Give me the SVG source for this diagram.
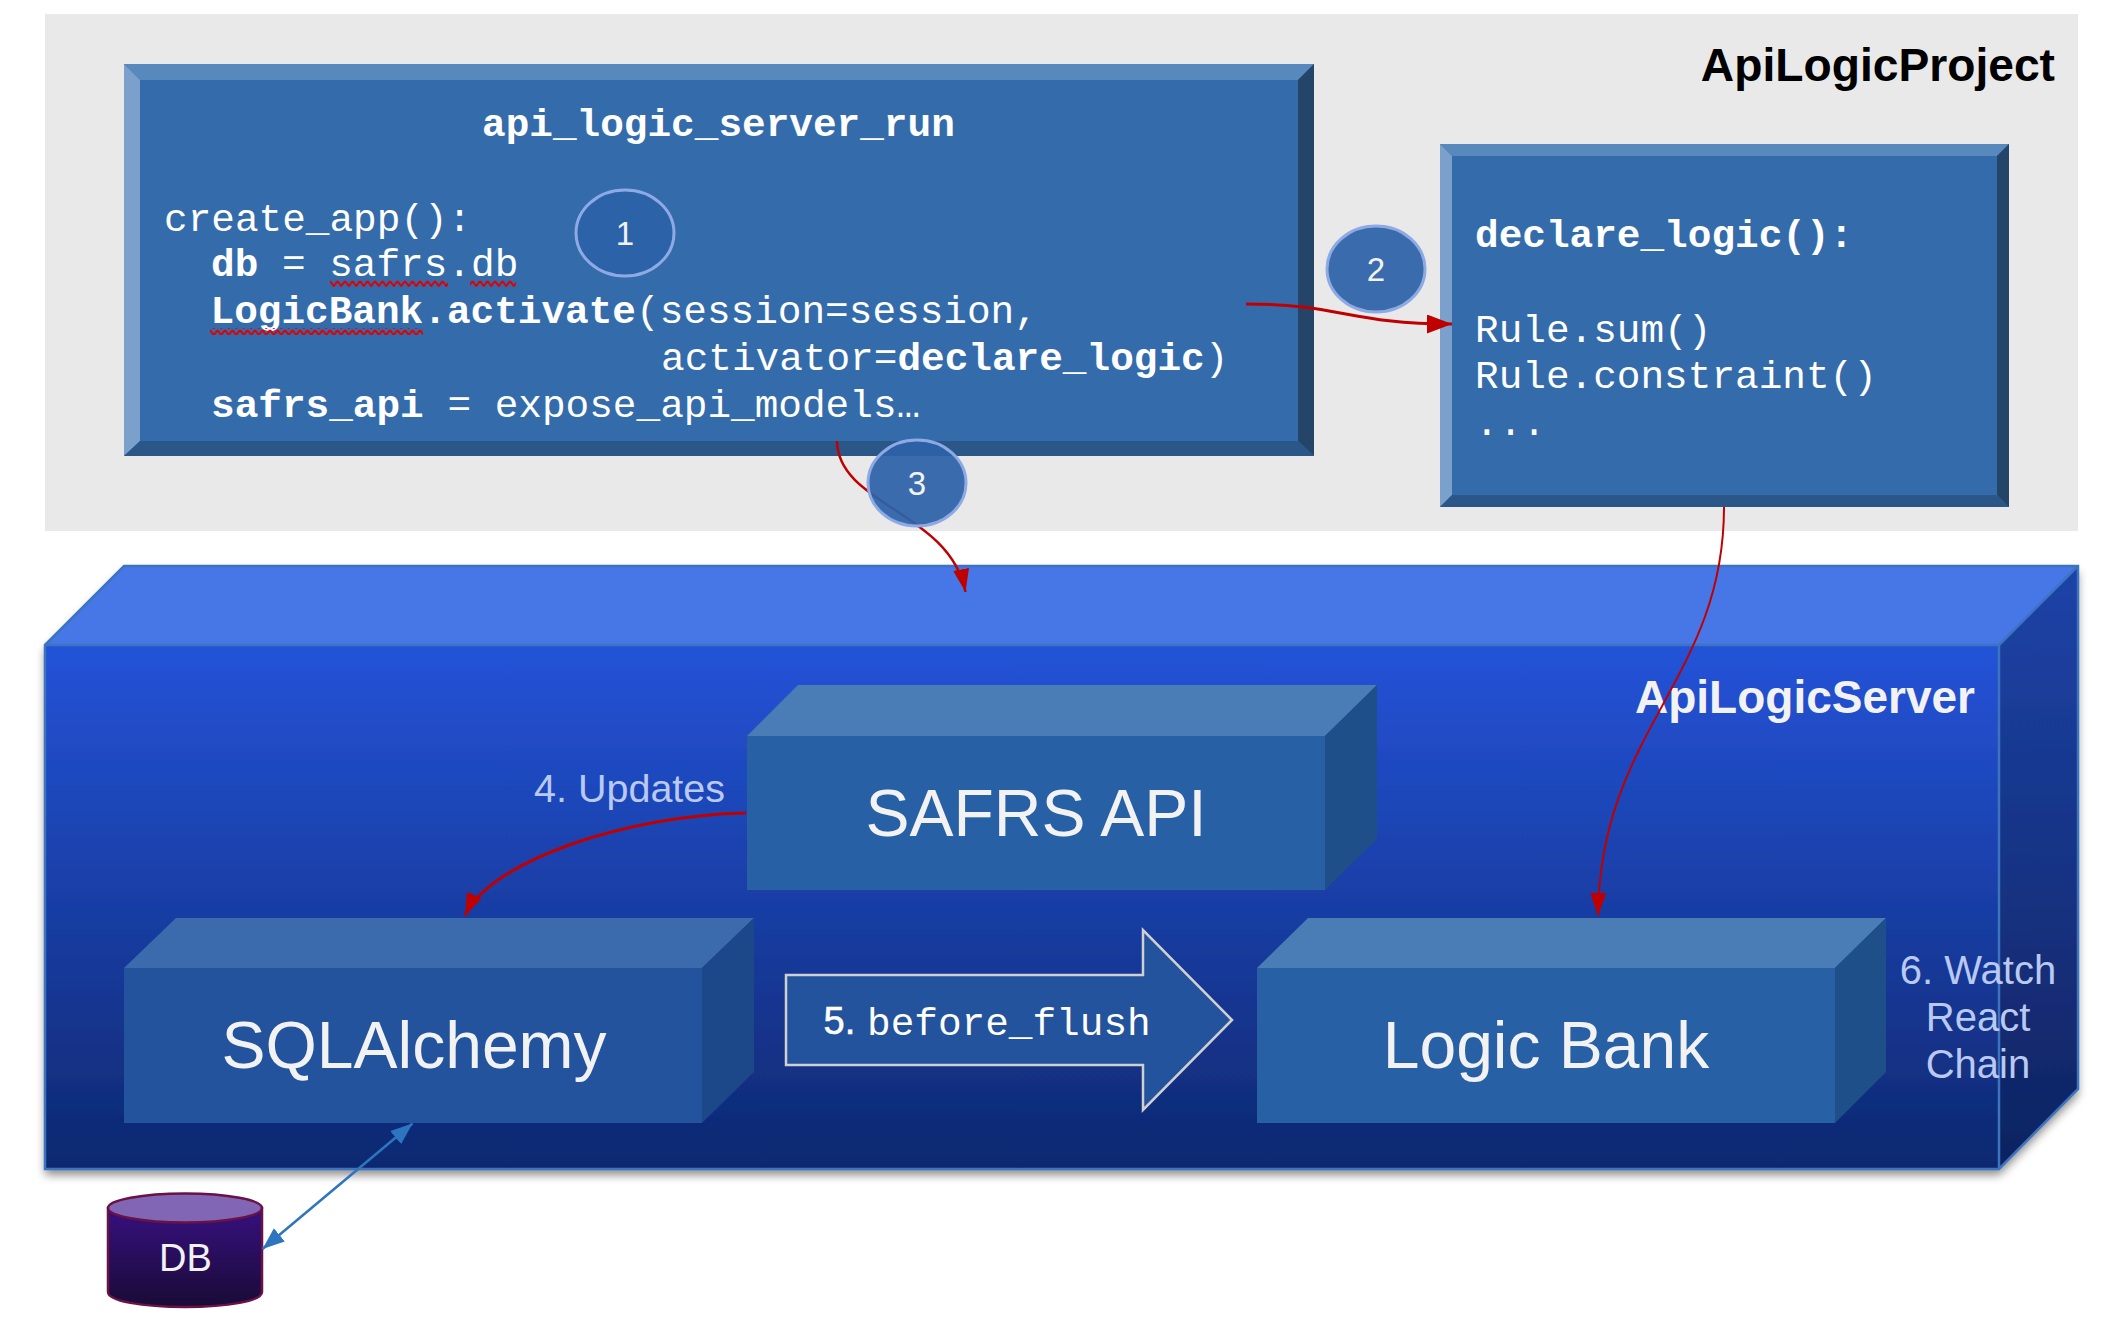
<svg xmlns="http://www.w3.org/2000/svg" width="2110" height="1320" viewBox="0 0 2110 1320">
<style>
.mono{font-family:"Liberation Mono","Courier New",monospace;font-size:39.4px;fill:#fff}
.b{font-weight:700}
.sans{font-family:"Liberation Sans",Arial,sans-serif}
.big{font-size:66px;fill:#f2f2f2;text-anchor:middle}
.lbl{font-size:40px;fill:#b9c9f2}
.num{font-size:33px;fill:#f2f2f2;text-anchor:middle}
.badge{stroke:#8eaae4;stroke-width:3;fill:#2c62a8;fill-opacity:.93}
.red{fill:none;stroke:#c00000}
</style>
<defs>
<linearGradient id="front" x1="0" y1="0" x2="0" y2="1"><stop offset="0" stop-color="#2453d8"/><stop offset="1" stop-color="#0e2870"/></linearGradient>
<linearGradient id="side" x1="0" y1="0" x2="0" y2="1"><stop offset="0" stop-color="#1d43a8"/><stop offset="1" stop-color="#0f2360"/></linearGradient>
<linearGradient id="dbg" x1="0" y1="0" x2="0" y2="1"><stop offset="0" stop-color="#37107f"/><stop offset="1" stop-color="#190b36"/></linearGradient>
<filter id="shadow" x="-5%" y="-5%" width="110%" height="110%"><feDropShadow dx="0" dy="6" stdDeviation="5" flood-color="#000" flood-opacity=".45"/></filter>
<marker id="redHead" markerUnits="userSpaceOnUse" markerWidth="26" markerHeight="20" refX="25" refY="9.5" orient="auto"><path d="M0 0L25 9.5L0 19z" fill="#c00000"/></marker>
<marker id="redSmall" markerUnits="userSpaceOnUse" markerWidth="24" markerHeight="18" refX="23" refY="8" orient="auto"><path d="M0 0L23 8L0 16z" fill="#c00000"/></marker>
<marker id="blueHead" markerUnits="userSpaceOnUse" markerWidth="23" markerHeight="18" refX="22" refY="8.500" orient="auto-start-reverse"><path d="M0 0L22 8.500L0 17z" fill="#2e75c0"/></marker>
<pattern id="wave" patternUnits="userSpaceOnUse" width="7.500" height="7"><path d="M0 1L3.750 6L7.500 1" fill="none" stroke="#e00000" stroke-width="2"/></pattern>
</defs>
<rect width="2110" height="1320" fill="#fff"/>

<g id="ApiLogicProject">
<rect x="45" y="14" width="2033" height="517" fill="#e9e9e9"/>
<text class="sans" x="2055" y="81" font-size="46.200" font-weight="700" text-anchor="end" fill="#000">ApiLogicProject</text>
</g>

<g id="ApiLogicServer">
<g filter="url(#shadow)">
<polygon points="45,645 124,566 2078,566 1999,645" fill="#4776e6"/>
<polygon points="1999,645 2078,566 2078,1089 1999,1169" fill="url(#side)"/>
<rect x="45" y="645" width="1954" height="524" fill="url(#front)"/>
</g>
<path d="M45 645L124 566H2078V1089L1999 1169H45zM45 645H1999V1169M1999 645L2078 566" fill="none" stroke="#3d74c0" stroke-width="2.500"/>
<text class="sans" x="1635" y="713" font-size="46" font-weight="700" fill="#f2f2f2">ApiLogicServer</text>
<text class="sans lbl" x="1978" y="984" text-anchor="middle">6. Watch</text>
<text class="sans lbl" x="1978" y="1031" text-anchor="middle">React</text>
<text class="sans lbl" x="1978" y="1078" text-anchor="middle">Chain</text>
</g>

<g id="SAFRS_API">
<polygon points="747,736 798,685 1377,685 1325,736" fill="#4a7db6"/>
<polygon points="1325,736 1377,685 1377,839 1325,890" fill="#1f4f88"/>
<rect x="747" y="736" width="578" height="154" fill="#2860a6"/>
<text class="sans big" x="1036" y="836">SAFRS API</text>
<text class="sans lbl" x="534" y="802" style="font-size:39.5px">4. Updates</text>
</g>

<g id="SQLAlchemy">
<polygon points="124,968 176,918 754,918 702,968" fill="#3b6aad"/>
<polygon points="702,968 754,918 754,1072 702,1123" fill="#1c4788"/>
<rect x="124" y="968" width="578" height="155" fill="#22539c"/>
<text class="sans big" x="414" y="1068">SQLAlchemy</text>
</g>

<g id="LogicBank">
<polygon points="1257,968 1308,918 1886,918 1835,968" fill="#4a7db6"/>
<polygon points="1835,968 1886,918 1886,1072 1835,1123" fill="#1f4f88"/>
<rect x="1257" y="968" width="578" height="155" fill="#2860a6"/>
<text class="sans big" x="1546" y="1068">Logic Bank</text>
</g>

<g id="before_flush">
<polygon points="786,975 1143,975 1143,930 1232,1020 1143,1110 1143,1065 786,1065" fill="#22539c" stroke="#d0d0d0" stroke-width="2.500"/>
<text class="sans" x="823.500" y="1034" font-size="38" fill="#fff" stroke="#fff" stroke-width=".6">5.</text>
<text class="mono" x="867" y="1035">before_flush</text>
</g>

<g id="DB">
<path d="M108 1208V1292C108 1301 142 1307 185 1307S262 1301 262 1292V1208z" fill="url(#dbg)" stroke="#6a1245" stroke-width="2.500"/>
<ellipse cx="185" cy="1208" rx="77" ry="14.500" fill="#8166b5" stroke="#6a1245" stroke-width="2.500"/>
<text class="sans" x="185.500" y="1271" font-size="38" fill="#f2f2f2" text-anchor="middle">DB</text>
</g>

<g id="api_logic_server_run">
<rect x="124" y="64" width="1190" height="392" fill="#346cab"/>
<polygon points="124,64 1314,64 1298,80 140,80" fill="#5889bd"/>
<polygon points="124,64 140,80 140,441 124,456" fill="#7ba0cb"/>
<polygon points="1314,64 1314,456 1298,441 1298,80" fill="#244468"/>
<polygon points="124,456 140,441 1298,441 1314,456" fill="#2b5788"/>
<text class="mono b" x="482" y="136">api_logic_server_run</text>
<text class="mono" x="164" y="231">create_app():</text>
<text class="mono" x="211" y="276"><tspan class="b">db</tspan> = safrs.db</text>
<text class="mono" x="210.500" y="323"><tspan class="b">LogicBank.activate</tspan>(session=session,</text>
<text class="mono" x="661" y="370">activator=<tspan class="b">declare_logic</tspan>)</text>
<text class="mono" x="211" y="417"><tspan class="b">safrs_api</tspan> = expose_api_models…</text>
<rect x="330" y="280" width="118" height="7" fill="url(#wave)"/>
<rect x="470" y="280" width="46" height="7" fill="url(#wave)"/>
<rect x="210" y="328" width="213" height="7" fill="url(#wave)"/>
</g>

<g id="declare_logic">
<rect x="1440" y="144" width="569" height="363" fill="#346cab"/>
<polygon points="1440,144 2009,144 1997,156 1452,156" fill="#5889bd"/>
<polygon points="1440,144 1452,156 1452,495 1440,507" fill="#7ba0cb"/>
<polygon points="2009,144 2009,507 1997,495 1997,156" fill="#244468"/>
<polygon points="1440,507 1452,495 1997,495 2009,507" fill="#2b5788"/>
<text class="mono b" x="1475" y="247">declare_logic():</text>
<text class="mono" x="1475" y="342">Rule.sum()</text>
<text class="mono" x="1475" y="388">Rule.constraint()</text>
<text class="mono" x="1475" y="435">...</text>
</g>

<g id="connectors">
<path class="red" stroke-width="3" d="M1246 304C1340 304 1350 324 1452 324" marker-end="url(#redHead)"/>
<path class="red" stroke-width="2.500" d="M837 441C838 505 950 512 965.500 592" marker-end="url(#redSmall)"/>
<path class="red" stroke-width="2" d="M1724 507C1724 680 1600 730 1598 916" marker-end="url(#redSmall)"/>
<path class="red" stroke-width="3" d="M746 813C630 815 490 860 465 916" marker-end="url(#redSmall)"/>
<path d="M412.500 1123.500L262.500 1249" fill="none" stroke="#2e75c0" stroke-width="2.500" marker-start="url(#blueHead)" marker-end="url(#blueHead)"/>
</g>

<g id="badge1"><ellipse class="badge" cx="625" cy="233" rx="49" ry="43"/><text class="sans num" x="625" y="245">1</text></g>
<g id="badge2"><ellipse class="badge" cx="1376" cy="269" rx="49" ry="43"/><text class="sans num" x="1376" y="281">2</text></g>
<g id="badge3"><ellipse class="badge" cx="917" cy="483" rx="49" ry="43"/><text class="sans num" x="917" y="495">3</text></g>
</svg>
